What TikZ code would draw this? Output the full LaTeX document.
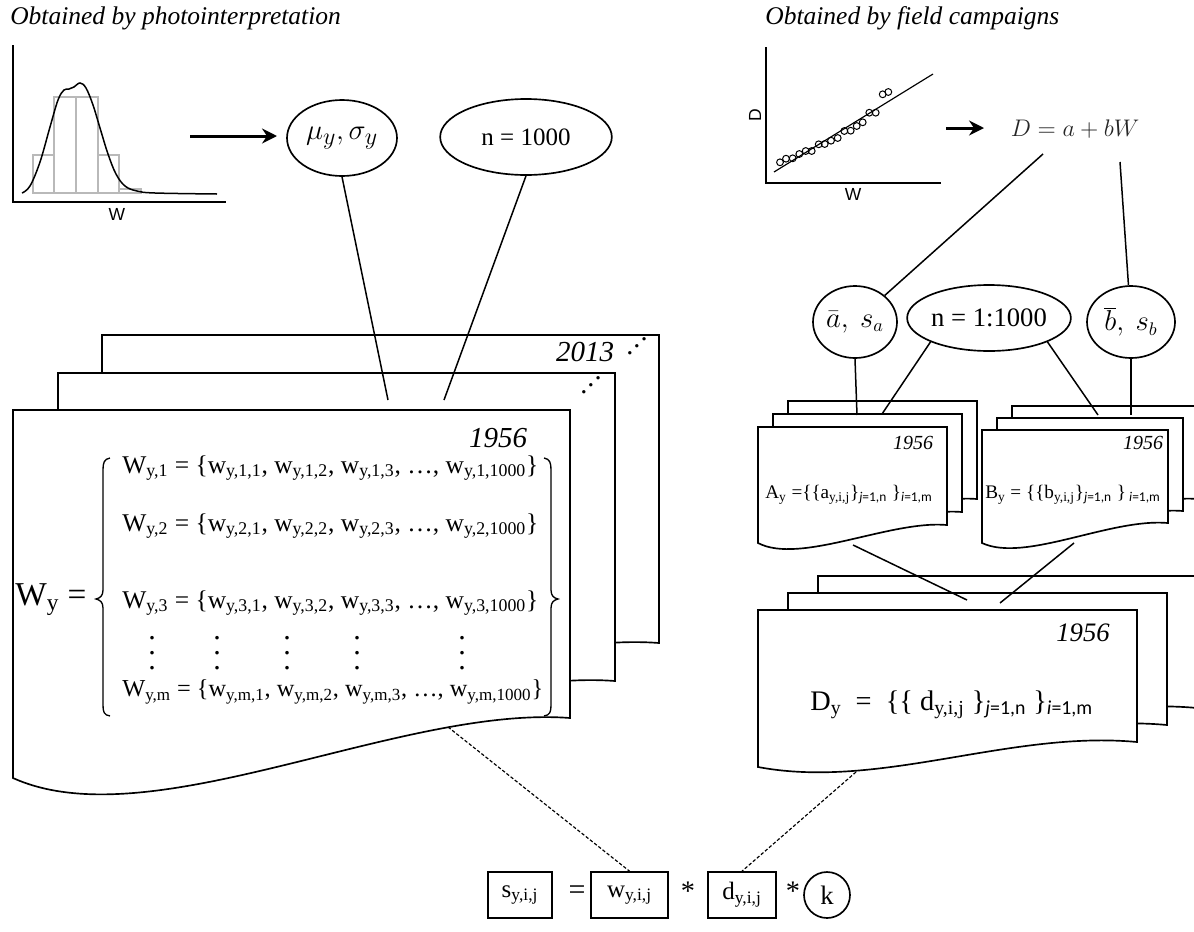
\documentclass[tikz,border=0pt]{standalone}
\usepackage{fontspec}
\setmainfont{Liberation Serif}
\newfontfamily\carl{Carlito}
\newfontfamily\arial{Liberation Sans}
\usepackage{graphicx}
\usetikzlibrary{arrows.meta,shapes.geometric}
\newcommand\fsz[1]{\fontsize{#1}{1.15\dimexpr#1pt\relax}\selectfont}
\newcommand\csb[2]{\textsubscript{\carl\textit{#1}=1,#2}}
\newcommand\myudots{.\raisebox{4.2pt}{.}\raisebox{8.4pt}{.}}
\begin{document}
\begin{tikzpicture}[x=0.6pt,y=-0.6pt,
  ln/.style={line width=0.9pt},
  page/.style={draw, fill=white, line width=1pt},
  ell/.style={ellipse, draw, line width=1pt, inner sep=0pt, fill=white},
  bx/.style={draw, line width=1pt, minimum height=27.6pt, inner sep=0pt},
  thickarrow/.style={line width=1.8pt, -{Stealth[length=9pt,width=9pt,inset=3pt]}},
  dsh/.style={line width=0.7pt, dash pattern=on 2pt off 1.2pt},
  txt/.style={inner sep=0pt},
  ttl/.style={inner sep=0pt, anchor=west, font=\fsz{15.3}\itshape},
  yr/.style={inner sep=0pt, font=\itshape},
  vd/.style={inner sep=0pt, align=center, font=\fontsize{18}{9}\selectfont},
  ax/.style={line width=1.2pt},
  bar/.style={draw=gray!55, line width=0.7pt},
  pt/.style={line width=0.6pt}
]
\fill[white] (0,0) rectangle (1194,931);
\useasboundingbox (0,0) rectangle (1194,931);
\clip (0,0) rectangle (1194,931);

% ---------- titles ----------
\node[ttl] (t1) at (10,18) {Obtained by photointerpretation};
\node[ttl] (t2) at (765,18) {Obtained by field campaigns};

% ---------- histogram ----------
\draw[bar] (33,193) rectangle (54,155);
\draw[bar] (54,193) rectangle (76,97);
\draw[bar] (76,193) rectangle (98,97);
\draw[bar] (98,193) rectangle (119,155);
\draw[bar] (119,193) rectangle (141,189);
\draw[ln] plot[smooth, tension=0.6] coordinates {(22,193) (30,186) (40,162) (50,127) (58,100) (64,90) (69,89) (74,87) (80,83) (86,88) (93,105) (100,128) (108,154) (116,174) (125,186) (137,191) (155,193) (217,194)};
\draw[ax] (13,45) -- (13,202) -- (226,202);
\node[txt, font=\arial\fsz{10.5}] (hw) at (117,214) {W};

% ---------- scatter ----------
\draw[ax] (766,47) -- (766,183) -- (941,183);
\draw[line width=0.7pt] (774,172) -- (933,74);
\foreach \p in {(780,162.3),(786,158.7),(792.7,158.3),(799.3,154),(805.7,151),(811.7,151),(818.7,144.3),(824.7,144),(831,140.7),(837.7,138),(844.3,131),(850.7,130.7),(856.7,126),(862.7,122.3),(869.3,112.7),(875.7,112.7),(882.7,94.3),(888.3,92)}
  \draw[pt] \p circle[radius=3.4];
\node[txt, font=\arial\fsz{10.5}, rotate=90] (sd) at (755,115) {D};
\node[txt, font=\arial\fsz{10.5}] (sw) at (853,194) {W};

% ---------- arrows ----------
\coordinate (hA) at (190,136); \coordinate (hB) at (277,136);
\coordinate (sA) at (946,128); \coordinate (sB) at (984,128);
\draw[thickarrow] (hA) -- (hB);
\draw[thickarrow] (sA) -- (sB);

\node[txt, font=\fsz{15.5}, text=black!85] (dab) at (1075,129) {$D = a + bW$};

% ---------- ellipses top ----------
\node[ell, minimum width=66pt, minimum height=45.6pt] (mu) at (342,138) {\fsz{19}$\mu_y,\sigma_y$};
\node[ell, minimum width=103pt, minimum height=45.6pt] (n1) at (526,137) {\fsz{15}n = 1000};

\node[ell, minimum width=50.4pt, minimum height=43.2pt] (abar) at (855,322) {\fsz{16}$\bar a,\ s_a$};
\node[ell, minimum width=79.2pt, minimum height=39.6pt] (n2) at (989,318) {\fsz{16}n = 1:1000};
\node[ell, minimum width=52.8pt, minimum height=43.2pt] (bbar) at (1131,322) {\fsz{16}$\overline{b},\ s_b$};

% ---------- W pages ----------
\foreach \s in {(89,-75),(45,-37)}
  \path[page, shift={\s}] (13,410) -- (570,410) -- (570,718) .. controls (400,705) and (150,840) .. (13,778) -- cycle;
\path[page] (13,410) -- (570,410) -- (570,718) .. controls (400,705) and (150,840) .. (13,778) -- cycle;

\node[yr, font=\fsz{17.4}\itshape] (y2013) at (585,352) {2013};
\node[txt, font=\fsz{17}] (dd1) at (637,346) {\myudots};
\node[txt, font=\fsz{17}] (dd2) at (591,385) {\myudots};
\node[yr, font=\fsz{17.4}\itshape] (y1956w) at (498,438) {1956};

\node[txt, anchor=west, font=\fsz{20}] (wy) at (15,600) {W\textsubscript{y} =};
\begin{scope}[every node/.style={txt, anchor=west, font=\fsz{15.3}}]
\node (r1) at (122,468) {W\textsubscript{y,1} = \{w\textsubscript{y,1,1}, w\textsubscript{y,1,2}, w\textsubscript{y,1,3}, …, w\textsubscript{y,1,1000}\}};
\node (r2) at (122,526) {W\textsubscript{y,2} = \{w\textsubscript{y,2,1}, w\textsubscript{y,2,2}, w\textsubscript{y,2,3}, …, w\textsubscript{y,2,1000}\}};
\node (r3) at (122,603) {W\textsubscript{y,3} = \{w\textsubscript{y,3,1}, w\textsubscript{y,3,2}, w\textsubscript{y,3,3}, …, w\textsubscript{y,3,1000}\}};
\end{scope}
\node[txt, anchor=west, font=\fsz{14.6}] (rm) at (122,692) {W\textsubscript{y,m} = \{w\textsubscript{y,m,1}, w\textsubscript{y,m,2}, w\textsubscript{y,m,3}, …, w\textsubscript{y,m,1000}\}};
\node[vd] (v1) at (152,653) {.\\.\\.};
\node[vd] (v2) at (217,653) {.\\.\\.};
\node[vd] (v3) at (287,653) {.\\.\\.};
\node[vd] (v4) at (357,653) {.\\.\\.};
\node[vd] (v5) at (462,653) {.\\.\\.};
% braces
\draw[line width=0.8pt] (110,458) .. controls (104,459) and (103,463) .. (103,470) -- (103,590) .. controls (103,596) and (100,598) .. (96,599) .. controls (100,600) and (103,602) .. (103,608) -- (103,705) .. controls (103,712) and (104,715) .. (110,716);
\draw[line width=0.8pt] (544,458) .. controls (550,459) and (551,463) .. (551,470) -- (551,590) .. controls (551,596) and (554,598) .. (558,599) .. controls (554,600) and (551,602) .. (551,608) -- (551,705) .. controls (551,712) and (550,715) .. (544,716);

% ---------- A pages ----------
\foreach \s in {(30,-26),(15,-13)}
  \path[page, shift={\s}] (758,427) -- (947,427) -- (947,525) .. controls (890,520) and (800,565) .. (758,543) -- cycle;
\path[page] (758,427) -- (947,427) -- (947,525) .. controls (890,520) and (800,565) .. (758,543) -- cycle;
\node[yr, font=\fsz{12}\itshape] (y1956a) at (913,443) {1956};
\node[txt, anchor=west, font=\fsz{11.5}] (atx) at (765,495) {A\textsubscript{y} =\{\{a\textsubscript{y,i,j}\}\csb{j}{n} \}\csb{i}{m}};

% ---------- B pages ----------
\foreach \s in {(30,-24),(15,-12)}
  \path[page, shift={\s}] (982,430) -- (1168,430) -- (1168,523) .. controls (1110,518) and (1025,563) .. (982,543) -- cycle;
\path[page] (982,430) -- (1168,430) -- (1168,523) .. controls (1110,518) and (1025,563) .. (982,543) -- cycle;
\node[yr, font=\fsz{12}\itshape] (y1956b) at (1143,443) {1956};
\node[txt, anchor=west, font=\fsz{11.5}] (btx) at (985,495) {B\textsubscript{y} = \{\{b\textsubscript{y,i,j}\}\csb{j}{n} \}\,\csb{i}{m}};

% ---------- D pages ----------
\foreach \s in {(60,-34),(30,-17)}
  \path[page, shift={\s}] (758,610) -- (1137,610) -- (1137,742) .. controls (1010,730) and (880,790) .. (758,767) -- cycle;
\path[page] (758,610) -- (1137,610) -- (1137,742) .. controls (1010,730) and (880,790) .. (758,767) -- cycle;
\node[yr, font=\fsz{16}\itshape] (y1956d) at (1083,633) {1956};
\node[txt, anchor=west, font=\fsz{17}] (dtx) at (810,705) {D\textsubscript{y} \ = \ \{\{ d\textsubscript{y,i,j} \}\csb{j}{n} \}\csb{i}{m}};

% ---------- bottom formula ----------
\node[bx, minimum width=38.4pt, font=\fsz{15}] (sbox) at (520,895) {s\textsubscript{y,i,j}};
\node[txt, font=\fsz{18}] (eq) at (577,893) {=};
\node[bx, minimum width=46.2pt, font=\fsz{15}] (wbox) at (629.5,895) {w\textsubscript{y,i,j}};
\node[txt, font=\fsz{17}] (st1) at (688,891) {*};
\node[bx, minimum width=40.8pt, font=\fsz{15}] (dbox) at (742,895) {d\textsubscript{y,i,j}};
\node[txt, font=\fsz{17}] (st2) at (793,891) {*};
\node[circle, draw, line width=1pt, minimum size=27.6pt, inner sep=0pt, font=\fsz{16}] (kc) at (827,895) {k};

% ---------- connectors ----------
\coordinate (w1) at (388,400); \coordinate (w2) at (444,400);
\coordinate (dab1) at (1043,154); \coordinate (dab2) at (1120,162);
\coordinate (a1) at (857,415); \coordinate (a2) at (882,414);
\coordinate (b1) at (1098,415); \coordinate (b2) at (1131,415);
\coordinate (aB) at (853,545); \coordinate (bB) at (1074,543);
\coordinate (d1) at (967,600); \coordinate (d2) at (1000,603);
\coordinate (wB) at (448,727); \coordinate (dB) at (856,772);

\draw[ln] (mu.south) -- (w1);
\draw[ln] (n1.south) -- (w2);
\draw[ln] (dab1) -- (abar);
\draw[ln] (dab2) -- (bbar);
\draw[ln] (abar.south) -- (a1);
\draw[ln] (n2.south west) -- (a2);
\draw[ln] (n2.south east) -- (b1);
\draw[ln] (bbar.south) -- (b2);
\draw[ln] (aB) -- (d1);
\draw[ln] (bB) -- (d2);
\draw[dsh] (wB) -- (wbox.north);
\draw[dsh] (dB) -- (dbox.north);
\end{tikzpicture}
\end{document}
